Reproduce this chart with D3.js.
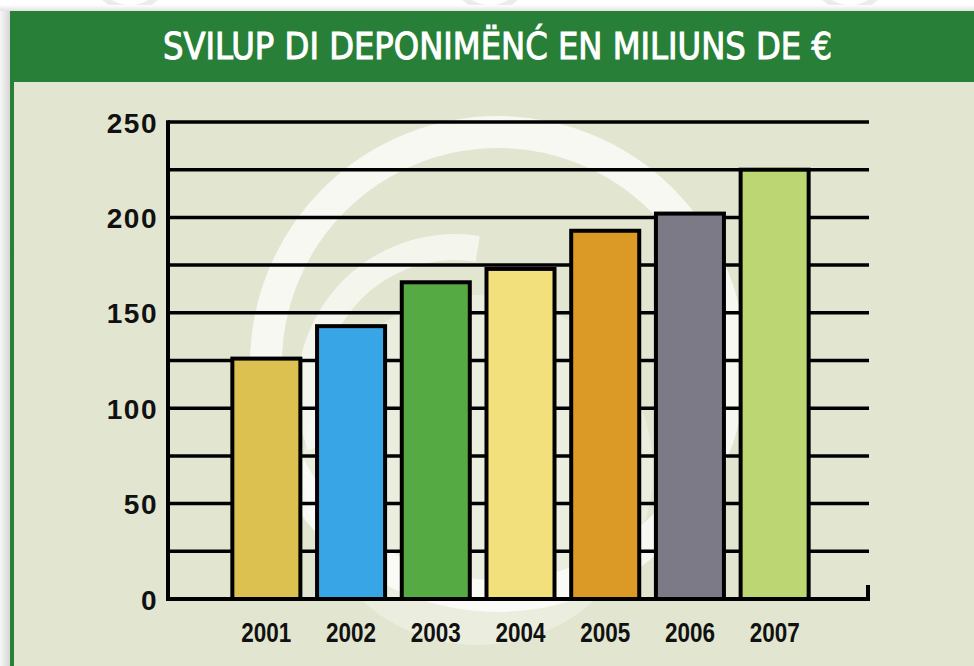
<!DOCTYPE html>
<html>
<head>
<meta charset="utf-8">
<script src="https://cdn.jsdelivr.net/npm/d3@7/dist/d3.min.js"></script>
<style>
  html, body { margin: 0; padding: 0; background: #ffffff; }
  svg { display: block; }
</style>
</head>
<body>
<svg id="chart" width="974" height="666"></svg>
<script>
// Deposits per year, in millions of euro
const years = ["2001", "2002", "2003", "2004", "2005", "2006", "2007"];
const deposits = [126, 143, 166, 173, 193, 202, 225];
const barColors = ["#dcc050", "#38a6e6", "#55aa44", "#f2e07c", "#db9a26", "#7c7a86", "#bdd674"];
const yTickLabels = [0, 50, 100, 150, 200, 250];
const gridStep = 25;
const titleText = "SVILUP DI DEPONIMËNĆ EN MILIUNS DE €";

const svg = d3.select("#chart");
const W = 974, H = 666;

const defs = svg.append("defs");
const shadow = defs.append("linearGradient").attr("id", "leftShade")
  .attr("x1", 0).attr("x2", 1).attr("y1", 0).attr("y2", 0);
shadow.append("stop").attr("offset", 0).attr("stop-color", "#f7f7f7");
shadow.append("stop").attr("offset", 1).attr("stop-color", "#d6d6d6");
const topShade = defs.append("linearGradient").attr("id", "topShade")
  .attr("x1", 0).attr("x2", 0).attr("y1", 0).attr("y2", 1);
topShade.append("stop").attr("offset", 0).attr("stop-color", "#ffffff");
topShade.append("stop").attr("offset", 1).attr("stop-color", "#e2e2e2");
defs.append("clipPath").attr("id", "panelClip")
  .append("rect").attr("x", 14).attr("y", 82).attr("width", W - 14).attr("height", H - 82);

// page background with faint pattern
svg.append("rect").attr("width", W).attr("height", H).attr("fill", "#ffffff");
const pattern = svg.append("g").attr("fill", "none").attr("stroke", "#ececec").attr("stroke-width", 6);
[[130, -30], [490, -30], [850, -30]].forEach(([cx, cy]) => {
  pattern.append("circle").attr("cx", cx).attr("cy", cy).attr("r", 38);
});
svg.append("rect").attr("x", 0).attr("y", 11).attr("width", 10).attr("height", H - 11).attr("fill", "url(#leftShade)");
svg.append("rect").attr("x", 0).attr("y", 5).attr("width", W).attr("height", 6).attr("fill", "url(#topShade)");

// panel and header
svg.append("rect").attr("x", 10).attr("y", 11).attr("width", W - 10).attr("height", H - 11).attr("fill", "#277f38");
svg.append("rect").attr("x", 14).attr("y", 82).attr("width", W - 14).attr("height", H - 82).attr("fill", "#e2e6d0");

svg.append("text")
  .attr("x", 497.5).attr("y", 58.5)
  .attr("text-anchor", "middle")
  .attr("textLength", 669)
  .attr("lengthAdjust", "spacingAndGlyphs")
  .attr("fill", "#ffffff")
  .attr("stroke", "#ffffff")
  .attr("stroke-width", 1)
  .style("font-family", "'Liberation Sans Narrow', 'DejaVu Sans Condensed', 'Liberation Sans', sans-serif")
  .style("font-size", "37px")
  .style("font-weight", "normal")
  .text(titleText);

// faint emblem behind the plot
const emblem = svg.append("g").attr("clip-path", "url(#panelClip)");
emblem.append("circle").attr("cx", 478).attr("cy", 470).attr("r", 175)
  .attr("fill", "#ffffff").attr("fill-opacity", 0.3);
emblem.append("circle").attr("cx", 498).attr("cy", 364).attr("r", 232)
  .attr("fill", "none").attr("stroke", "#ffffff").attr("stroke-opacity", 0.72).attr("stroke-width", 32);
const innerArc = d3.arc().innerRadius(132).outerRadius(158)
  .startAngle(-Math.PI * 0.62).endAngle(Math.PI * 0.05);
emblem.append("path").attr("transform", "translate(455,392)")
  .attr("d", innerArc()).attr("fill", "#ffffff").attr("fill-opacity", 0.62);

// scales
const xLeft = 168, xRight = 869, yBase = 599;
const y = d3.scaleLinear().domain([0, 250]).range([yBase, 122]);
const x = d3.scaleBand().domain(years).range([224, 817]).paddingInner(0.197).paddingOuter(0.0985);

// horizontal grid
const gridValues = d3.range(gridStep, 250 + 1, gridStep);
svg.append("g").selectAll("line").data(gridValues).join("line")
  .attr("x1", xLeft).attr("x2", xRight)
  .attr("y1", d => y(d)).attr("y2", d => y(d))
  .attr("stroke", "#000").attr("stroke-width", 3.5);

// bars
svg.append("g").selectAll("rect").data(years).join("rect")
  .attr("x", d => x(d))
  .attr("y", (d, i) => y(deposits[i]))
  .attr("width", x.bandwidth())
  .attr("height", (d, i) => yBase - y(deposits[i]))
  .attr("fill", (d, i) => barColors[i])
  .attr("stroke", "#000").attr("stroke-width", 4);

// axes
svg.append("line").attr("x1", xLeft).attr("x2", xLeft).attr("y1", y(250) - 1.75).attr("y2", yBase + 2)
  .attr("stroke", "#000").attr("stroke-width", 4);
svg.append("line").attr("x1", xLeft - 2).attr("x2", xRight + 1).attr("y1", yBase).attr("y2", yBase)
  .attr("stroke", "#000").attr("stroke-width", 4);
svg.append("line").attr("x1", xRight - 1).attr("x2", xRight - 1).attr("y1", 585).attr("y2", yBase + 2)
  .attr("stroke", "#000").attr("stroke-width", 4);

const yAxis = d3.axisLeft(y).tickValues(yTickLabels).tickSize(0).tickPadding(10);
const yg = svg.append("g").attr("transform", `translate(${xLeft},0)`).call(yAxis);
yg.select(".domain").remove();
yg.selectAll("text")
  .attr("fill", "#111")
  .attr("dy", "0.36em")
  .style("font-family", "'Liberation Sans', Arial, sans-serif")
  .style("font-size", "28px")
  .style("font-weight", "bold")
  .style("letter-spacing", "1.5px");

const xAxis = d3.axisBottom(x).tickSize(0).tickPadding(0);
const xg = svg.append("g").attr("transform", `translate(0,${yBase})`).call(xAxis);
xg.select(".domain").remove();
xg.selectAll("text")
  .attr("fill", "#111")
  .attr("y", 43).attr("dy", 0)
  .attr("textLength", 50)
  .attr("lengthAdjust", "spacingAndGlyphs")
  .style("font-family", "'Liberation Sans', Arial, sans-serif")
  .style("font-size", "28px")
  .style("font-weight", "bold");
</script>
</body>
</html>
